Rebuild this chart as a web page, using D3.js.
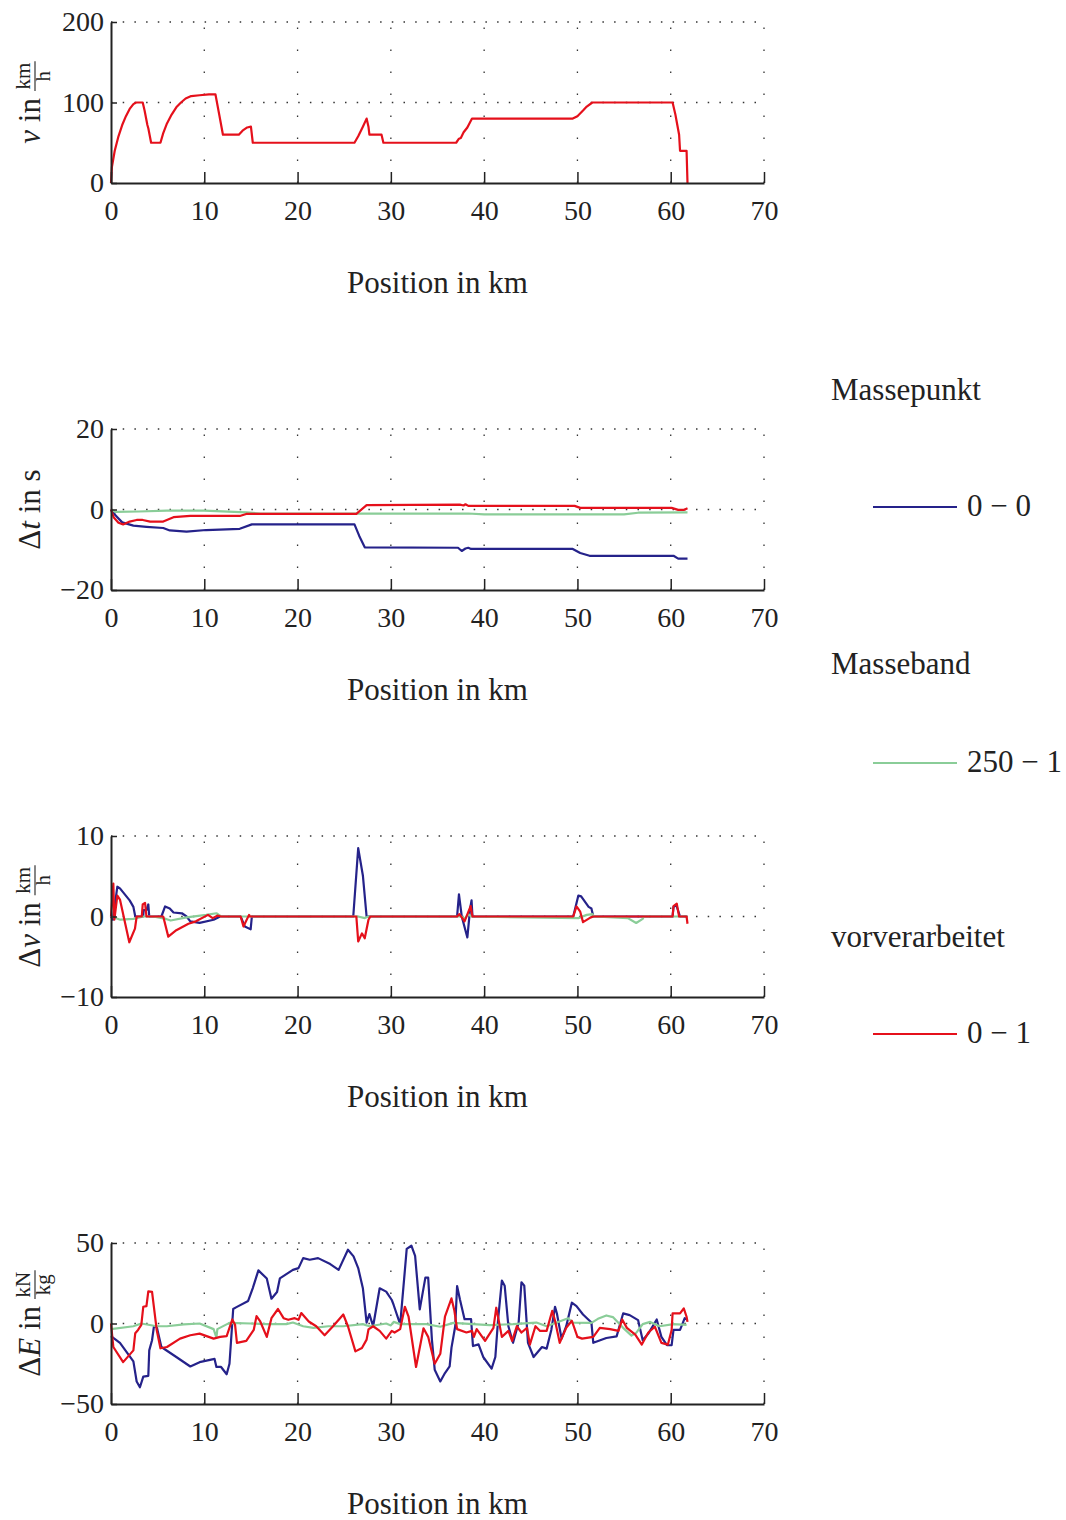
<!DOCTYPE html>
<html>
<head>
<meta charset="utf-8">
<script src="https://cdn.jsdelivr.net/npm/d3@7"></script>
<style>
body { margin: 0; background: #fff; }
text { font-family: "Liberation Serif", serif; fill: #222; }
</style>
</head>
<body>
<svg id="chart" width="1066" height="1520"></svg>
<script>
const xTicks = [0, 10, 20, 30, 40, 50, 60, 70]
const vTicks = [0, 100, 200]
const dtTicks = [-20, 0, 20]
const dvTicks = [-10, 0, 10]
const deTicks = [-50, 0, 50]

const seriesNames = ["Massepunkt", "Masseband", "vorverarbeitet"]
const seriesLabels = ["0 \u2212 0", "250 \u2212 1", "0 \u2212 1"]
const seriesColors = ["#25228a", "#8acd98", "#e5101b"]

// v in km/h, only the red run
const vRed = [[0,0],[0.1,20],[0.4,40],[0.8,58],[1.2,72],[1.6,83],[2.0,92],[2.4,98],[2.7,100],[3.4,100],[3.6,90],[3.9,72],[4.0,68],[4.3,50],[5.3,50],[5.6,62],[6.0,74],[6.5,85],[7.0,94],[7.5,100],[8.0,105],[8.6,108],[9.5,109],[10.5,110],[11.2,110],[11.6,85],[12.0,60],[13.7,60],[14.1,65],[14.6,69],[15.0,70],[15.2,50],[26.1,50],[26.5,58],[27.0,70],[27.4,80],[27.6,70],[27.7,60],[29.0,60],[29.2,50],[37.0,50],[37.3,55],[37.5,56],[37.8,63],[38.2,69],[38.7,80],[49.5,80],[50.0,83],[50.6,90],[51.0,95],[51.6,100],[60.2,100],[60.5,85],[60.9,60],[61.0,40],[61.7,40],[61.8,0]]

// delta t in s
const dtBlue = [[0,0],[0.5,-1.5],[1.2,-3.2],[2.4,-4.0],[3.8,-4.3],[5.6,-4.6],[6.3,-5.2],[8.1,-5.5],[10.2,-5.1],[13.8,-4.8],[15.1,-3.7],[26.1,-3.7],[26.6,-6.5],[27.2,-9.4],[37.2,-9.5],[37.6,-10.3],[38.0,-9.7],[38.3,-9.5],[38.6,-9.8],[49.5,-9.8],[50.3,-10.8],[51.3,-11.5],[60.3,-11.5],[60.8,-12.2],[61.8,-12.2]]
const dtGreen = [[0,0],[0.5,-0.6],[3,-0.5],[6,-0.3],[10,-0.3],[14.5,-0.7],[16,-1.0],[38.3,-1.0],[40,-1.2],[55,-1.2],[56.5,-0.8],[61.8,-0.7]]
const dtRed = [[0,0],[0.3,-2],[0.8,-3.3],[1.3,-3.7],[2.0,-3.0],[2.75,-2.6],[3.4,-2.6],[4.2,-3.0],[5.6,-3.0],[6.7,-1.9],[8.5,-1.6],[13.8,-1.6],[14.5,-1.1],[26.3,-1.1],[27.4,1.1],[37.4,1.2],[37.8,1.0],[38.0,1.3],[38.3,0.9],[49.7,0.9],[50.3,0.4],[60.1,0.4],[60.8,-0.1],[61.4,-0.1],[61.8,0.3]]

// delta v in km/h
const dvBlue = [[0,0],[0.2,-0.4],[0.68,3.7],[0.96,3.5],[2.0,2.0],[2.4,1.2],[2.6,0],[3.45,0],[3.5,0.8],[3.8,0.8],[4.0,1.5],[4.1,0],[5.4,0],[5.8,1.25],[6.3,1.0],[6.7,0.5],[7.6,0.4],[8.1,0],[8.5,-0.6],[9.5,-0.8],[11.0,-0.4],[11.7,0],[13.9,0],[14.35,-1.25],[14.97,-1.6],[15.1,0],[25.97,0],[26.5,8.5],[27.0,5.1],[27.4,0],[37.1,0],[37.3,2.75],[37.6,0],[38.2,-2.6],[38.5,1.0],[38.65,2.0],[38.75,0],[49.55,0],[50.1,2.6],[50.4,2.5],[51.2,1.2],[51.5,1.0],[51.7,0],[60.2,0],[60.3,1.2],[60.6,1.4],[61.0,0],[61.8,0]]
const dvGreen = [[0,0],[1.0,-0.4],[2.4,-0.3],[3.5,0],[4.5,0],[5.9,-0.3],[6.4,-0.5],[8.1,-0.1],[10.2,0.2],[11.3,0.4],[11.8,0],[26.5,0],[27.2,-0.2],[27.6,0],[37.6,0],[37.9,-0.3],[38.3,0.3],[38.6,0],[50.1,-0.2],[51.0,0.2],[51.6,0.3],[51.8,0],[55.4,-0.2],[56.3,-0.8],[57.0,-0.3],[57.1,0],[61.8,0]]
const dvRed = [[0,0],[0.25,4.1],[0.36,-0.4],[0.68,2.6],[0.96,2.1],[1.96,-3.2],[2.57,-1.5],[2.75,0],[3.3,0],[3.4,1.5],[3.65,1.7],[3.8,0],[5.6,0],[6.14,-2.5],[7.0,-1.7],[8.3,-0.9],[9.1,-0.6],[10.4,0.2],[10.9,-0.2],[11.4,0.1],[11.8,0],[13.9,0],[14.2,-1.25],[14.8,0.2],[14.9,0],[26.3,0],[26.5,-3.1],[26.9,-2.1],[27.2,-2.7],[27.6,-0.4],[27.8,0],[37.1,0],[37.35,0.3],[37.9,-0.6],[38.55,1.3],[38.75,0],[49.55,0],[49.9,1.25],[50.3,0.6],[50.6,-0.7],[51.3,-0.2],[51.7,0],[60.2,0],[60.3,1.3],[60.65,1.6],[60.9,0],[61.7,0],[61.8,-0.9]]

// delta E in kN/kg
const deBlue = [[0,-7.9],[0.96,-12],[2.4,-23.5],[2.75,-36],[3.1,-39.6],[3.46,-33],[4.0,-32.5],[4.1,-16.7],[4.4,-10.4],[4.6,-2],[4.9,-2],[5.4,-14.6],[7.0,-20.8],[8.5,-26.7],[9.5,-24],[11.1,-22],[11.3,-27],[11.8,-27],[12.4,-31.5],[12.7,-25],[13.1,9],[13.4,10],[14.7,14],[15.2,22],[15.8,33],[16.7,28],[17.2,15.4],[17.8,19.6],[18.1,28],[19.5,33.3],[20.1,34.4],[20.6,40.6],[21.3,39.6],[22.2,40.6],[23.5,36.9],[24.4,33.3],[25.4,45.8],[26,41.7],[26.5,34.4],[27.0,21.9],[27.4,0.6],[27.7,5.8],[28.1,-1.7],[28.8,21.9],[29.5,19.8],[30.1,14.6],[30.3,11.5],[31.0,-0.6],[31.7,46.3],[32.2,48.3],[32.6,42],[33.1,8.75],[33.7,28.5],[34.0,28.5],[34.4,-10],[34.7,-28.7],[35.3,-36],[35.8,-30.8],[36.3,-26.7],[36.5,-15],[36.9,-1.7],[37.1,23.3],[37.4,15],[37.9,2.7],[38.6,2.7],[38.8,-14],[39.4,-13],[39.9,-20.8],[40.8,-28],[41.2,-20.8],[41.5,2.7],[41.9,26.7],[42.2,23.5],[42.6,-1.7],[43.1,-12],[43.7,0.6],[44.0,25.6],[44.3,23.5],[44.7,-12],[45.3,-20.8],[46.2,-14.6],[46.7,-15.6],[47.2,-4],[47.6,10.4],[47.8,6.25],[48.3,-9.4],[48.8,-1.7],[49.4,12.9],[49.9,10.8],[50.6,5.6],[51.5,0.6],[51.7,-12],[53.1,-9],[54.2,-8],[54.9,6.25],[55.6,5.2],[56.5,2.1],[57.0,-10.4],[57.6,-6.25],[58.5,2.5],[59.0,-8.3],[59.6,-13.5],[60.1,-13.5],[60.3,-4],[61.0,-4],[61.5,3.3],[61.8,2.3]]
const deGreen = [[0,-3.5],[2.4,-1.7],[3.25,0],[4.9,-1.7],[6,-1.7],[7.8,-0.6],[9.5,0],[11,-3.5],[11.3,-8.8],[11.4,-3.5],[12.7,0.4],[15,0],[16.7,-0.4],[18.8,-0.4],[19.5,0.6],[20.6,-1.7],[21.7,-2.7],[23.3,-1.7],[24.9,-1.7],[27,-0.4],[27.7,-1.7],[29.5,0],[30.0,-1.2],[30.3,1],[31,-0.4],[32.4,-0.4],[33.8,-0.4],[35.3,-2],[36.7,0.4],[38.8,-0.4],[40.6,-1],[43.1,-0.4],[45.6,0.6],[46.7,-1.7],[49,3.3],[49.5,0.6],[51.5,0.4],[52.2,2.9],[53.1,5],[53.8,4],[54.9,-2.7],[55.8,-7.5],[56.3,-5.8],[57,-0.4],[57.8,1],[58.8,-1.7],[60.3,-0.4],[61.7,-0.8]]
const deRed = [[0,0],[0.25,-14.6],[1.3,-24],[2.4,-16.7],[2.6,-6],[2.9,-4],[3.25,-0.8],[3.46,10.4],[3.8,10.8],[4.0,20],[4.4,19.6],[4.9,-4],[5.3,-15.4],[6.0,-14.6],[7.4,-9.4],[8.5,-7.3],[9.5,-6.3],[11,-9.4],[11.7,-8.3],[12.4,-7.9],[13,2.5],[13.3,-0.8],[13.5,-12],[14.5,-10.8],[15.3,-4],[15.6,4.6],[16.0,1.25],[16.7,-8.3],[17.2,3.3],[17.9,9],[18.5,3.3],[19,2.3],[19.7,3.3],[20.1,2.3],[20.4,6.5],[21.2,1.25],[22.0,-1.7],[22.9,-7.3],[23.8,-1.7],[24.9,5.6],[25.4,-1.7],[26.2,-17.3],[26.9,-15.2],[27.4,-10],[27.6,-3.7],[28.1,-1.7],[28.8,-4.6],[29.5,-9.4],[30.1,-4.6],[30.4,-5.6],[31,-3.5],[31.5,10.4],[31.9,4.2],[32.7,-27],[33.5,-3],[34,-8.3],[34.7,-25],[35.3,-18.8],[35.8,4.2],[36.5,15.6],[36.8,8.3],[37.1,-3.5],[38.1,-5.6],[38.7,-4.6],[38.9,-8.3],[39.2,-3.5],[40.1,-10.8],[41,-2.7],[41.3,9.8],[41.9,-8.3],[42.6,-4.6],[43,-10.8],[43.5,-1.7],[44,-5.6],[44.6,-2.7],[44.9,-13.1],[45.5,-1.7],[46,-4.6],[46.7,-4.6],[47.3,7.9],[47.6,1.7],[48.1,-12],[48.8,-2.7],[49.4,1.7],[50,-8.3],[50.5,-9.4],[51.7,-8.3],[52.4,-2.7],[53.5,-3.5],[54.4,-4.6],[54.8,2.5],[55.3,-2.7],[56.2,-6.9],[56.9,-13.1],[57.6,-5.6],[58.3,-2],[59,-12],[59.7,-13.1],[60.1,-4],[60.2,6.25],[61,6.25],[61.4,9.4],[61.7,4.2],[61.8,1]]

const svg = d3.select("#chart")
const left = 111, right = 764, plotH = 161

let x = d3.scaleLinear().domain([0, 70]).range([left, right])

const panels = [
    { top: 22, domain: [0, 200], ticks: vTicks, lines: [[vRed, 2]],
      label: [["v", true], [" in", false]], frac: ["km", "h"] },
    { top: 429, domain: [-20, 20], ticks: dtTicks, lines: [[dtBlue, 0], [dtGreen, 1], [dtRed, 2]],
      label: [["\u0394", false], ["t", true], [" in s", false]], frac: null },
    { top: 836, domain: [-10, 10], ticks: dvTicks, lines: [[dvBlue, 0], [dvGreen, 1], [dvRed, 2]],
      label: [["\u0394", false], ["v", true], [" in", false]], frac: ["km", "h"] },
    { top: 1243, domain: [-50, 50], ticks: deTicks, lines: [[deBlue, 0], [deGreen, 1], [deRed, 2]],
      label: [["\u0394", false], ["E", true], [" in", false]], frac: ["kN", "kg"] }
]

function yLabel(g, cy, parts, frac) {
    let lab = g.append("g").attr("transform", `translate(0,${cy}) rotate(-90)`)
    let t = lab.append("text").attr("y", 40).style("font-size", "31px")
    parts.forEach(p => {
        t.append("tspan").text(p[0]).style("font-style", p[1] ? "italic" : "normal")
    })
    let mainW = t.node().getComputedTextLength()
    let gap = 7
    let total = mainW
    let fr = null, fw = 0
    if (frac) {
        fr = lab.append("g")
        let n = fr.append("text").attr("y", 30).attr("text-anchor", "middle").style("font-size", "21px").text(frac[0])
        let d = fr.append("text").attr("y", 50).attr("text-anchor", "middle").style("font-size", "21px").text(frac[1])
        fw = Math.max(n.node().getComputedTextLength(), d.node().getComputedTextLength()) + 3
        fr.append("line").attr("x1", -fw / 2).attr("x2", fw / 2).attr("y1", 35).attr("y2", 35)
            .attr("stroke", "#222").attr("stroke-width", 1.1)
        total += gap + fw
    }
    let start = -total / 2
    t.attr("x", start)
    if (fr) fr.attr("transform", `translate(${start + mainW + gap + fw / 2},0)`)
}

panels.forEach(p => {
    let y = d3.scaleLinear().domain(p.domain).range([p.top + plotH, p.top])
    let g = svg.append("g")

    // dotted grid
    g.selectAll(".hgrid")
        .data(p.ticks.slice(1))
        .join("line")
        .attr("x1", left).attr("x2", right)
        .attr("y1", d => y(d)).attr("y2", d => y(d))
        .attr("stroke", "#333").attr("stroke-width", 1.3)
        .attr("stroke-dasharray", "1.5,10.2")
    g.selectAll(".vgrid")
        .data(xTicks.slice(1))
        .join("line")
        .attr("x1", d => x(d)).attr("x2", d => x(d))
        .attr("y1", p.top + plotH).attr("y2", p.top)
        .attr("stroke", "#333").attr("stroke-width", 1.3)
        .attr("stroke-dasharray", "1.5,20.5")

    let line = d3.line().x(d => x(d[0])).y(d => y(d[1]))
    p.lines.forEach(l => {
        g.append("path")
            .attr("d", line(l[0]))
            .attr("fill", "none")
            .attr("stroke", seriesColors[l[1]])
            .attr("stroke-width", 2.2)
            .attr("stroke-linejoin", "round")
    })

    let axB = d3.axisBottom(x).tickValues(xTicks).tickSizeInner(-11).tickSizeOuter(0).tickPadding(17)
    let gx = g.append("g").attr("transform", `translate(0,${p.top + plotH})`).call(axB)
    let axL = d3.axisLeft(y).tickValues(p.ticks).tickSizeInner(-6).tickSizeOuter(0).tickPadding(7)
        .tickFormat(d => d < 0 ? "\u2212" + Math.abs(d) : d)
    let gy = g.append("g").attr("transform", `translate(${left},0)`).call(axL)
    ;[gx, gy].forEach(a => {
        a.select(".domain").attr("stroke", "#222").attr("stroke-width", 2)
        a.selectAll(".tick line").attr("stroke", "#222").attr("stroke-width", 1.5)
        a.selectAll(".tick text").style("font-size", "28px").attr("fill", "#222")
            .style("font-family", "'Liberation Serif', serif")
    })

    g.append("text")
        .attr("x", (left + right) / 2).attr("y", p.top + plotH + 110)
        .attr("text-anchor", "middle").style("font-size", "31px")
        .text("Position in km")

    yLabel(g, p.top + plotH / 2, p.label, p.frac)
})

// legend
const legTitleY = [400, 674, 947]
const legLineY = [507, 763, 1034]
seriesNames.forEach((name, i) => {
    svg.append("text").attr("x", 831).attr("y", legTitleY[i]).style("font-size", "31px").text(name)
    svg.append("line").attr("x1", 873).attr("x2", 957).attr("y1", legLineY[i]).attr("y2", legLineY[i])
        .attr("stroke", seriesColors[i]).attr("stroke-width", 2.2)
    svg.append("text").attr("x", 967).attr("y", legLineY[i] + 9).style("font-size", "31px").text(seriesLabels[i])
})
</script>
</body>
</html>
